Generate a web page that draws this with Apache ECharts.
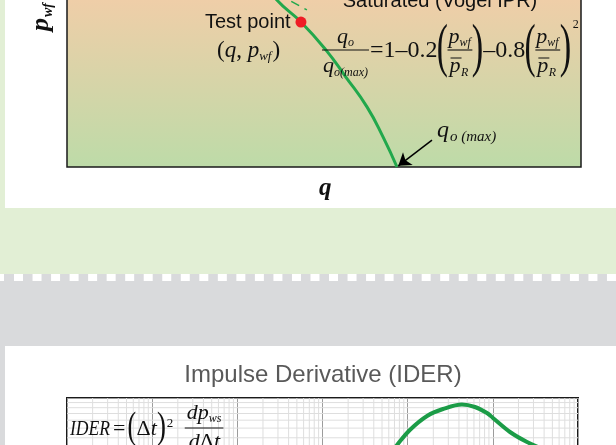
<!DOCTYPE html>
<html>
<head>
<meta charset="utf-8">
<script src="https://cdn.jsdelivr.net/npm/echarts@6/dist/echarts.min.js"></script>
<style>
  html, body { margin: 0; padding: 0; background: #fff; }
  #c { width: 616px; height: 445px; }
</style>
</head>
<body>
<div id="c"></div>
<script>
// ---- Vogel IPR (dimensionless: q / q_o(max) against p_wf / p̄_R) ----
const iprRate     = [0.621, 0.636, 0.709, 0.785, 0.845, 0.909, 0.958, 1.000];
const iprPressure = [0.586, 0.553, 0.480, 0.387, 0.298, 0.199, 0.099, 0.000];
const testRate = [0.709];
const testPressure = [0.480];
// straight-line (undersaturated) IPR segment, dashed
const linearRate     = [0.560, 0.727];
const linearPressure = [0.620, 0.520];
// arrow pointing at q_o(max)
const arrowRate     = [1.106, 1.004];
const arrowPressure = [0.089, 0.004];

// ---- Impulse derivative curve (log-log) ----
const iderTime  = [5.42, 7.5, 10.6, 16.9, 26.0, 43.4, 61.7, 85.4, 100.4, 159, 252, 409];
const iderValue = [24.0, 33.9, 47.9, 66.1, 77.6, 86.1, 81.3, 70.8, 63.1, 45.7, 36.3, 30.2];
const timeDecades  = [0.001, 0.01, 0.1, 1, 10, 100, 1000];
const valueDecades = [0.01, 0.1, 1, 10, 100];
const minorSteps   = [2, 3, 4, 5, 6, 7, 8, 9];

const SERIF = '"Liberation Serif", "Times New Roman", serif';
const SANS  = '"Liberation Sans", Arial, sans-serif';
const INK = '#111';

// ---------- text layout helpers ----------
const mctx = document.createElement('canvas').getContext('2d');
function fontOf(s) {
  return (s.it ? 'italic ' : '') + (s.b ? 'bold ' : '') + s.size + 'px ' + (s.fam || SERIF);
}
function measure(font, t) {
  mctx.font = font;
  mctx.textBaseline = 'alphabetic';
  const m1 = mctx.measureText(t);
  const a = m1.fontBoundingBoxAscent;
  mctx.textBaseline = 'middle';
  const b = mctx.measureText(t).fontBoundingBoxAscent;
  mctx.textBaseline = 'alphabetic';
  return { w: m1.width, off: (typeof a === 'number' && typeof b === 'number') ? a - b : null };
}
function txt(x, base, s, extra) {
  const f = fontOf(s);
  const m = measure(f, s.t);
  const off = m.off != null ? m.off : 0.33 * s.size;
  const al = s.align || 'left';
  return Object.assign({
    type: 'text', x: x, y: base - off, z: 100, silent: true,
    style: { text: s.t, font: f, fill: s.fill || INK,
             textAlign: al, align: al, textVerticalAlign: 'middle', verticalAlign: 'middle' }
  }, extra || {});
}
function run(x, base, segs) {
  const els = [];
  let cx = x;
  segs.forEach(s => {
    const sx = s.sx || 1;
    const w = measure(fontOf(s), s.t).w * sx;
    els.push(txt(cx + (s.dx || 0), base + (s.dy || 0), s, sx !== 1 ? { scaleX: sx } : null));
    cx += w + (s.kern || 0);
  });
  return { els: els, end: cx };
}
function width(segs) {
  return segs.reduce((acc, s) => acc + measure(fontOf(s), s.t).w * (s.sx || 1) + (s.kern || 0), 0);
}
// tall delimiter stretched between top and bottom, squeezed to a given width
function delim(ch, left, top, bot, wid) {
  const T = 100;
  const f0 = fontOf({ size: T });
  mctx.font = f0; mctx.textBaseline = 'alphabetic';
  const m = mctx.measureText(ch);
  const A = m.actualBoundingBoxAscent, D = m.actualBoundingBoxDescent;
  const L = m.actualBoundingBoxLeft, R = m.actualBoundingBoxRight;
  const F = (bot - top) / (A + D) * T;
  const k = F / T;
  const sx = wid / ((L + R) * k);
  const base = top + A * k;
  const el = txt(left + L * k * sx, base, { t: ch, size: +F.toFixed(2) }, { scaleX: sx });
  return { el: el, end: left + wid };
}
function hline(x1, x2, y, w) {
  return { type: 'line', z: 100, silent: true, shape: { x1: x1, y1: y, x2: x2, y2: y },
           style: { stroke: INK, lineWidth: w || 1.1 } };
}

const graphics = [];

// ---------- page backdrop ----------
const PALE_GREEN = '#e2efd5', PALE_GRAY = '#d9dadc';
graphics.push({ type: 'rect', z: -10, silent: true, shape: { x: 0, y: 0, width: 5, height: 208 }, style: { fill: PALE_GREEN } });
graphics.push({ type: 'rect', z: -10, silent: true, shape: { x: 0, y: 208, width: 616, height: 66 }, style: { fill: PALE_GREEN } });
graphics.push({ type: 'rect', z: -10, silent: true, shape: { x: 0, y: 274, width: 616, height: 72 }, style: { fill: PALE_GRAY } });
graphics.push({ type: 'rect', z: -10, silent: true, shape: { x: 0, y: 346, width: 5, height: 99 }, style: { fill: PALE_GRAY } });
graphics.push({ type: 'rect', z: -9, silent: true, shape: { x: 0, y: 274, width: 4, height: 7 }, style: { fill: '#fff' } });
for (let i = 0; i <= 32; i++) {
  graphics.push({ type: 'rect', z: -9, silent: true,
    shape: { x: 14 + i * 18.53, y: 274, width: 9, height: 7 }, style: { fill: '#fff' } });
}

// ---------- top panel annotations ----------
graphics.push(txt(440, 7, { t: 'Saturated (Vogel IPR)', size: 20, fam: SANS, align: 'center' }));
graphics.push(txt(205, 28, { t: 'Test point', size: 20, fam: SANS }));
graphics.push(...run(217, 57, [
  { t: '(', size: 23 }, { t: 'q', it: 1, size: 23 }, { t: ', ', size: 23 },
  { t: 'p', it: 1, size: 23 }, { t: 'wf', it: 1, size: 13, dy: 3, kern: 1 }, { t: ')', size: 23 }
]).els);

// Vogel equation
(function () {
  const NUM = 43, DEN = 72, BAR = 50, EQ = 57;
  // q_o / q_o(max)
  const denA = [{ t: 'q', it: 1, size: 22 }, { t: 'o(max)', it: 1, size: 12, dy: 4 }];
  const numA = [{ t: 'q', it: 1, size: 22 }, { t: 'o', it: 1, size: 12, dy: 3 }];
  const aL = 322;
  const dA = run(aL + 1, DEN, denA);
  const aR = dA.end + 1;
  graphics.push(...dA.els);
  graphics.push(...run((aL + aR) / 2 - width(numA) / 2, NUM, numA).els);
  graphics.push(hline(aL, aR, BAR));
  let x = aR + 1;
  const e1 = run(x, EQ, [{ t: '=1–0.2', size: 24 }]);
  graphics.push(...e1.els);
  x = e1.end + 0.5;

  function ratio(xStart) {
    const lp = delim('(', xStart, 23, 78, 9);
    graphics.push(lp.el);
    const fl = lp.end + 0.5;
    const num = run(fl + 1, NUM, [{ t: 'p', it: 1, size: 22 }, { t: 'wf', it: 1, size: 12, dy: 3 }]);
    const pw = measure(fontOf({ it: 1, size: 22 }), 'p').w;
    const den = run(fl + 2, DEN, [{ t: 'p', it: 1, size: 22, kern: 0.5 }, { t: 'R', it: 1, size: 12, dy: 4 }]);
    graphics.push(...num.els, ...den.els);
    graphics.push(hline(fl + 3, fl + 2 + pw + 1, 58, 1));
    const fr = Math.max(num.end, den.end) + 1.5;
    graphics.push(hline(fl, fr, BAR));
    const rp = delim(')', fr + 0.5, 23, 78, 9);
    graphics.push(rp.el);
    return rp.end;
  }
  x = ratio(x);
  const e2 = run(x + 1.5, EQ, [{ t: '–0.8', size: 24 }]);
  graphics.push(...e2.els);
  x = ratio(e2.end + 0.5);
  graphics.push(txt(x + 3, 28, { t: '2', size: 12 }));
})();

graphics.push(...run(437, 137, [{ t: 'q', it: 1, size: 24 }, { t: 'o (max)', it: 1, size: 15, dy: 4, dx: 1 }]).els);
graphics.push(txt(319, 194.5, { t: 'q', it: 1, b: 1, size: 25 }));

// rotated pressure label p_wf
(function () {
  const p = { t: 'p', it: 1, b: 1, size: 26 };
  const s = { t: 'wf', it: 1, b: 1, size: 14 };
  const op = measure(fontOf(p), 'p').off || 0.33 * 26;
  const os = measure(fontOf(s), 'wf').off || 0.33 * 14;
  graphics.push(Object.assign(txt(0, 0, p), { x: 48 - op, y: 31, rotation: Math.PI / 2 }));
  graphics.push(Object.assign(txt(0, 0, s), { x: 52 - os, y: 17, rotation: Math.PI / 2 }));
})();

// ---------- lower panel ----------
graphics.push(txt(323, 382, { t: 'Impulse Derivative (IDER)', size: 24, fam: SANS, fill: '#595959', align: 'center' }));
(function () {
  const B = 435;
  const r1 = run(70, B, [{ t: 'IDER', it: 1, size: 22, sx: 0.8, kern: 3 }, { t: '=', size: 22 }]);
  graphics.push(...r1.els);
  const lp = delim('(', r1.end + 3, 411, 446, 7);
  graphics.push(lp.el);
  const r2 = run(lp.end + 1, B, [{ t: 'Δ', size: 22 }, { t: 't', it: 1, size: 22 }]);
  graphics.push(...r2.els);
  const rp = delim(')', r2.end + 1, 411, 446, 7);
  graphics.push(rp.el);
  graphics.push(txt(rp.end + 2, 427, { t: '2', size: 13 }));
  const fl = rp.end + 20;
  const num = run(fl + 2, 419, [{ t: 'dp', it: 1, size: 22 }, { t: 'ws', it: 1, size: 12, dy: 3 }]);
  const den = run(fl + 4, 448, [{ t: 'd', it: 1, size: 22 }, { t: 'Δ', size: 22 }, { t: 't', it: 1, size: 22 }]);
  graphics.push(...num.els, ...den.els);
  graphics.push(hline(fl, Math.max(num.end, den.end) + 2, 428));
})();

// ---------- log-grid minor lines (built from decade and step lists) ----------
const xMin = timeDecades[0], xMax = timeDecades[timeDecades.length - 1];
const yMin = valueDecades[0], yMax = valueDecades[valueDecades.length - 1];
const minorV = [], minorH = [];
timeDecades.slice(0, -1).forEach(d => minorSteps.forEach(s => {
  minorV.push([d * s, yMin], [d * s, yMax], [null, null]);
}));
valueDecades.slice(0, -1).forEach(d => minorSteps.forEach(s => {
  minorH.push([xMin, d * s], [xMax, d * s], [null, null]);
}));

const GREEN = '#22a84c';

const option = {
  backgroundColor: '#ffffff',
  animation: false,
  graphic: { elements: graphics },
  grid: [
    { left: 67, top: -135, width: 514, height: 302, show: true, z: 0,
      outerBoundsMode: 'none', containLabel: false,
      borderColor: '#1a1a1a', borderWidth: 1.5,
      backgroundColor: { type: 'linear', x: 0, y: 0, x2: 0, y2: 1,
        colorStops: [ { offset: 0, color: '#f8c8a0' }, { offset: 0.447, color: '#efcea8' }, { offset: 1, color: '#bddba8' } ] } },
    { left: 67, top: 398, width: 511, height: 400, show: true, z: 0,
      outerBoundsMode: 'none', containLabel: false,
      borderColor: '#1a1a1a', borderWidth: 2, backgroundColor: '#ffffff' }
  ],
  xAxis: [
    { type: 'value', gridIndex: 0, min: 0, max: 1.5576, show: false },
    { type: 'log', gridIndex: 1, min: xMin, max: xMax, logBase: 10,
      axisLine: { show: false }, axisTick: { show: false }, axisLabel: { show: false },
      splitLine: { show: true, lineStyle: { color: '#9c9c9c', width: 1 } } }
  ],
  yAxis: [
    { type: 'value', gridIndex: 0, min: 0, max: 1, show: false },
    { type: 'log', gridIndex: 1, min: yMin, max: yMax, logBase: 10,
      axisLine: { show: false }, axisTick: { show: false }, axisLabel: { show: false },
      splitLine: { show: true, lineStyle: { color: '#9c9c9c', width: 1 } } }
  ],
  series: [
    { type: 'line', name: 'Vogel IPR', xAxisIndex: 0, yAxisIndex: 0, z: 3,
      data: iprRate.map((q, i) => [q, iprPressure[i]]),
      smooth: 0.5, showSymbol: false, lineStyle: { color: GREEN, width: 3 },
      markLine: { silent: true, symbol: ['none', 'arrow'], symbolSize: 12,
        label: { show: false }, lineStyle: { color: '#000', width: 1.5, type: 'solid' },
        data: [[ { coord: [arrowRate[0], arrowPressure[0]] }, { coord: [arrowRate[1], arrowPressure[1]] } ]] } },
    { type: 'line', name: 'Straight-line IPR', xAxisIndex: 0, yAxisIndex: 0, z: 3,
      data: linearRate.map((q, i) => [q, linearPressure[i]]),
      showSymbol: false, lineStyle: { color: GREEN, width: 1.5, type: [9, 6] } },
    { type: 'scatter', name: 'Test point', xAxisIndex: 0, yAxisIndex: 0, z: 4,
      data: testRate.map((q, i) => [q, testPressure[i]]),
      symbolSize: 11, itemStyle: { color: '#ee1c25', opacity: 1 } },
    { type: 'line', name: 'minor-v', xAxisIndex: 1, yAxisIndex: 1, z: 1, silent: true,
      data: minorV, showSymbol: false, connectNulls: false,
      lineStyle: { color: '#dedede', width: 1 } },
    { type: 'line', name: 'minor-h', xAxisIndex: 1, yAxisIndex: 1, z: 1, silent: true,
      data: minorH, showSymbol: false, connectNulls: false,
      lineStyle: { color: '#dedede', width: 1 } },
    { type: 'line', name: 'IDER', xAxisIndex: 1, yAxisIndex: 1, z: 3,
      data: iderTime.map((t, i) => [t, iderValue[i]]),
      smooth: 0.35, showSymbol: false, lineStyle: { color: '#1b9c47', width: 4 } }
  ]
};

const chart = echarts.init(document.getElementById('c'), null, { renderer: 'canvas', width: 616, height: 445 });
chart.setOption(option);
</script>
</body>
</html>
